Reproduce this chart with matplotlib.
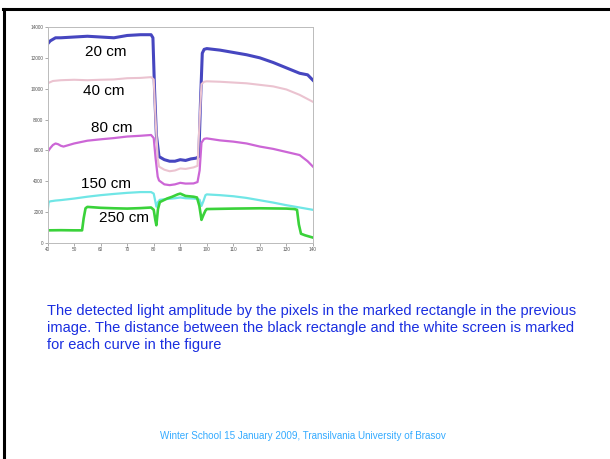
import matplotlib.pyplot as plt

plt.rcParams['font.family'] = ['Liberation Sans', 'DejaVu Sans']

# curve data
x20 = [40, 41, 43, 45, 50, 55, 60, 65, 70, 75, 79, 79.7, 80.3, 81, 82, 84, 86, 88, 90, 92, 94, 96, 97, 97.6, 98.3, 99, 100, 105, 110, 115, 120, 125, 130, 135, 138, 140]
y20 = [12900, 13100, 13300, 13300, 13350, 13400, 13350, 13300, 13450, 13500, 13500, 13300, 10000, 7000, 5600, 5400, 5300, 5300, 5400, 5350, 5450, 5500, 5600, 9000, 12300, 12550, 12600, 12500, 12350, 12200, 12000, 11700, 11350, 11000, 10900, 10550]

x40 = [40, 42, 45, 50, 55, 60, 65, 70, 75, 79, 80, 80.7, 81.5, 82, 84, 86, 88, 90, 92, 95, 96.5, 97.3, 98, 99, 100, 105, 110, 115, 120, 125, 130, 135, 140]
y40 = [10350, 10500, 10550, 10580, 10550, 10580, 10600, 10680, 10700, 10750, 10600, 8000, 5500, 4950, 4750, 4650, 4700, 4830, 4800, 4900, 5000, 8000, 10300, 10450, 10480, 10450, 10400, 10350, 10250, 10150, 9950, 9600, 9150]

x80 = [40, 41, 42, 43, 44, 45, 46, 48, 50, 55, 60, 65, 70, 75, 79, 80, 80.7, 81.5, 82, 84, 86, 88, 90, 92, 95, 96.5, 97.3, 98, 99, 100, 105, 110, 115, 120, 125, 130, 135, 138, 140]
y80 = [5900, 6150, 6350, 6450, 6400, 6300, 6250, 6350, 6450, 6630, 6720, 6800, 6900, 6950, 7000, 6800, 5500, 4300, 4050, 3800, 3750, 3800, 3900, 3850, 3860, 3950, 4700, 6500, 6750, 6780, 6650, 6570, 6450, 6250, 6100, 5900, 5700, 5300, 4950]

x150 = [40, 40.4, 41, 43, 45, 50, 55, 60, 65, 70, 75, 79, 80, 80.6, 81, 81.6, 82.3, 85, 88, 90, 92, 95, 96.5, 97.3, 98, 98.7, 99.5, 100, 105, 110, 115, 120, 125, 130, 135, 140]
y150 = [2000, 2650, 2700, 2750, 2780, 2880, 3000, 3100, 3180, 3250, 3300, 3300, 3200, 2700, 2350, 2650, 2800, 2850, 2900, 2950, 2900, 2880, 2850, 2800, 2400, 2700, 3100, 3150, 3100, 3030, 2920, 2770, 2620, 2450, 2300, 2150]

x250 = [40, 45, 50, 53, 53.6, 54.3, 55, 60, 65, 70, 75, 79, 80, 80.6, 81, 81.6, 82.3, 85, 87, 89, 90, 92, 95, 96.3, 97.2, 98, 98.7, 99.5, 100, 110, 120, 130, 133, 134, 134.7, 135.5, 137, 140]
y250 = [820, 830, 820, 820, 1600, 2250, 2340, 2280, 2250, 2230, 2260, 2300, 2150, 1500, 1150, 2200, 2650, 2880, 3000, 3150, 3200, 3050, 3000, 2950, 2400, 1500, 1800, 2100, 2200, 2230, 2250, 2230, 2200, 2150, 1200, 600, 500, 350]

labels = ['20 cm', '40 cm', '80 cm', '150 cm', '250 cm']
label_x = [62, 61.3, 64, 62, 68.9]
label_y = [12370, 9820, 7430, 3810, 1650]

xs = [x20, x40, x80, x150, x250]
ys = [y20, y40, y80, y150, y250]
colors = ['#4646c0', '#ebc3d0', '#cc66d6', '#70e6e6', '#3ad23a']
widths = [2.2, 1.5, 1.6, 1.6, 1.9]

fig = plt.figure(figsize=(6.1, 4.59), dpi=100)

# slide frame: top and left black lines
fig.add_artist(plt.Line2D([0.005, 1.0], [0.98, 0.98], color='black', lw=2.2, transform=fig.transFigure))
fig.add_artist(plt.Line2D([0.0065, 0.0065], [0.0, 0.98], color='black', lw=2.2, transform=fig.transFigure))

ax = fig.add_axes([0.078, 0.4706, 0.435, 0.4706])
for xx, yy, c, w in zip(xs, ys, colors, widths):
    ax.plot(xx, yy, color=c, lw=w)
for t, lx, ly in zip(labels, label_x, label_y):
    ax.text(lx, ly, t, fontsize=11, ha='center', va='center', color='black')

ax.set_xlim(40, 140)
ax.set_ylim(0, 14000)
ax.set_xticks(range(40, 141, 10))
ax.set_yticks(range(0, 14001, 2000))
ax.tick_params(labelsize=3.4, colors='#888888', length=2, width=0.5, labelcolor='#555555', pad=1)
for s in ax.spines.values():
    s.set_color('#bbbbbb')
    s.set_linewidth(0.7)

caption = ("The detected light amplitude by the pixels in the marked rectangle in the previous\n"
           "image. The distance between the black rectangle and the white screen is marked\n"
           "for each curve in the figure")
fig.text(0.077, 0.338, caption, fontsize=10.5, color='#1a2ee0', ha='left', va='top', linespacing=1.28)

fig.text(0.497, 0.05, 'Winter School 15 January 2009, Transilvania University of Brasov',
         fontsize=7.1, color='#33aaff', ha='center', va='center')

fig.savefig('out.png', dpi=100)
